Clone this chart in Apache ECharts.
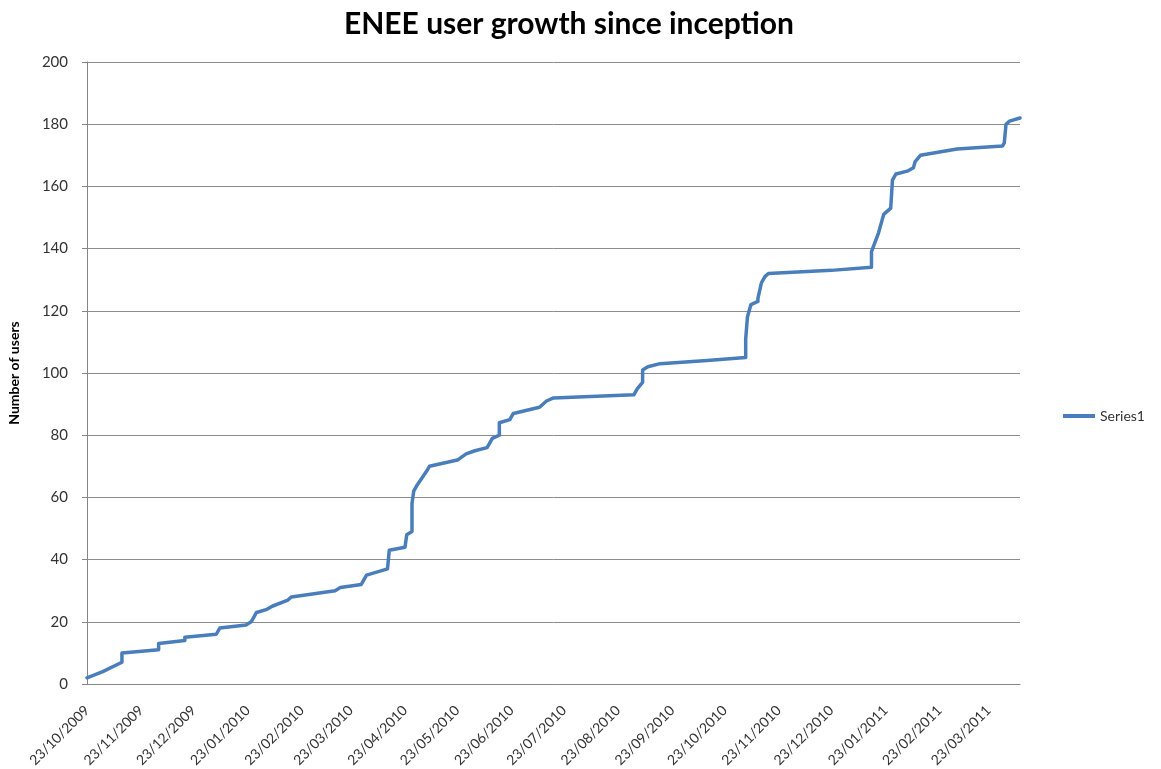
<!DOCTYPE html>
<html>
<head>
<meta charset="utf-8">
<script src="https://cdn.jsdelivr.net/npm/echarts@6/dist/echarts.min.js"></script>
<style>html,body{margin:0;padding:0;background:#fff}#c{width:1161px;height:769px}</style>
</head>
<body>
<div id="c"></div>
<script>
const dates = ['2009-10-23','2009-11-01','2009-11-12','2009-11-12','2009-12-03','2009-12-03','2009-12-18','2009-12-18',
'2010-01-05','2010-01-07','2010-01-22','2010-01-25','2010-01-28','2010-02-03','2010-02-06','2010-02-15','2010-02-17',
'2010-03-14','2010-03-17','2010-03-29','2010-04-01','2010-04-13','2010-04-14','2010-04-23','2010-04-24','2010-04-27',
'2010-04-27','2010-04-28','2010-04-30','2010-05-06','2010-05-07','2010-05-23','2010-05-28','2010-06-02','2010-06-09',
'2010-06-12','2010-06-16','2010-06-16','2010-06-22','2010-06-24','2010-07-09','2010-07-13','2010-07-17','2010-09-01',
'2010-09-03','2010-09-06','2010-09-06','2010-09-09','2010-09-16','2010-10-13','2010-11-04','2010-11-04','2010-11-05',
'2010-11-07','2010-11-11','2010-11-11','2010-11-13','2010-11-15','2010-11-17','2010-12-23','2011-01-15','2011-01-15',
'2011-01-17','2011-01-19','2011-01-20','2011-01-22','2011-01-26','2011-01-27','2011-01-29','2011-02-05','2011-02-08',
'2011-02-09','2011-02-12','2011-03-05','2011-03-31','2011-04-01','2011-04-02','2011-04-04','2011-04-10'];
const users = [2,4,7,10,11,13,14,15,
16,18,19,20,23,24,25,27,28,
30,31,32,35,37,43,44,48,49,
58,62,64,69,70,72,74,75,76,
79,80,84,85,87,89,91,92,93,
95,97,101,102,103,104,105,111,118,
122,123,124,129,131,132,133,134,139,
142,145,147,151,153,162,164,165,166,
168,170,172,173,174,180,181,182];
const tickLabels = ['23/10/2009','23/11/2009','23/12/2009','23/01/2010','23/02/2010','23/03/2010','23/04/2010',
'23/05/2010','23/06/2010','23/07/2010','23/08/2010','23/09/2010','23/10/2010','23/11/2010','23/12/2010',
'23/01/2011','23/02/2011','23/03/2011'];
const xMin = '2009-10-23';
const xMax = '2011-04-10';
const seriesName = 'Series1';

function parseDMY(s){const p=s.split('/');return new Date(+p[2],+p[1]-1,+p[0]).getTime();}
function parseYMD(s){const p=s.split('-');return new Date(+p[0],+p[1]-1,+p[2]).getTime();}
const tickTimes = tickLabels.map(parseDMY);
function fmt(v){const d=new Date(v);const p=n=>(n<10?'0':'')+n;return p(d.getDate())+'/'+p(d.getMonth()+1)+'/'+d.getFullYear();}

const FONT = 'Lato';
const chart = echarts.init(document.getElementById('c'), null, {renderer:'canvas'});
chart.setOption({
  animation:false,
  backgroundColor:'#fff',
  title:{text:'ENEE user growth since inception',left:564,textAlign:'center',top:4,
    textStyle:{fontFamily:FONT,fontSize:30,fontWeight:'bold',color:'#000'}},
  legend:{left:1063,top:409,padding:0,itemWidth:32,itemHeight:4,icon:'rect',
    textStyle:{fontFamily:FONT,fontSize:14,color:'#333'},
    data:[{name:seriesName,icon:'rect'}]},
  grid:{left:87,right:141,top:62,bottom:85,containLabel:false,outerBoundsMode:'none'},
  xAxis:{type:'value',min:parseYMD(xMin),max:parseYMD(xMax),
    axisLine:{show:true,lineStyle:{color:'#868686',width:1}},
    axisTick:{show:false},
    splitLine:{show:false},
    axisLabel:{customValues:tickTimes,rotate:45,margin:24,fontFamily:FONT,fontSize:14,color:'#333',
      formatter:function(v){return fmt(v);}}
  },
  yAxis:{type:'value',min:0,max:200,interval:20,
    name:'Number of users',nameLocation:'middle',nameGap:66,nameRotate:90,
    nameTextStyle:{fontFamily:FONT,fontSize:14,fontWeight:'bold',color:'#000'},
    axisLine:{show:true,lineStyle:{color:'#868686',width:1}},
    axisTick:{show:true,length:5,lineStyle:{color:'#868686'}},
    splitLine:{show:true,lineStyle:{color:'#8c8c8c',width:1}},
    axisLabel:{margin:19,fontFamily:FONT,fontSize:15,color:'#333'}
  },
  series:[{name:seriesName,type:'line',showSymbol:false,symbol:'none',
    data:dates.map((d,i)=>[parseYMD(d),users[i]]),
    lineStyle:{color:'#4a7ebb',width:3.5,join:'round',cap:'round'},itemStyle:{color:'#4a7ebb'}}]
});
</script>
</body>
</html>
